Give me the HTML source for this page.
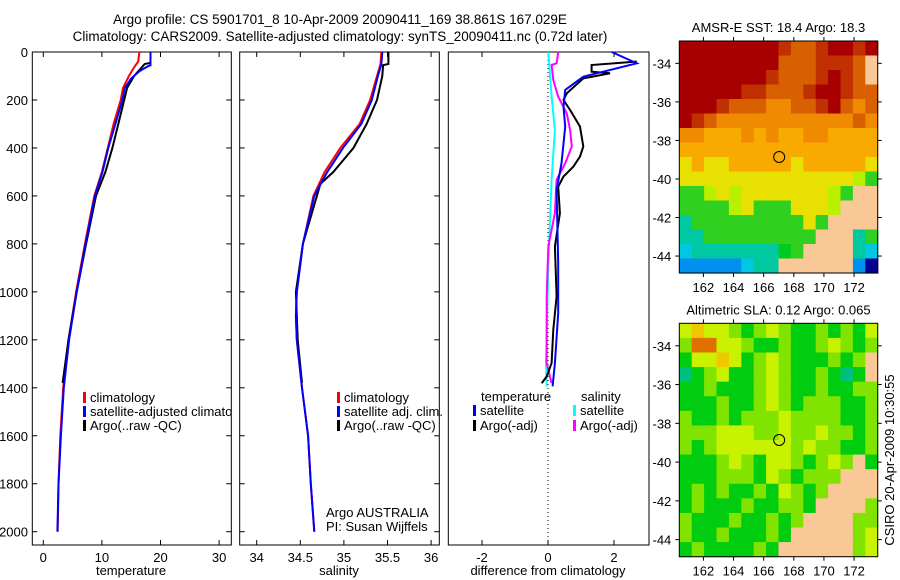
<!DOCTYPE html>
<html><head><meta charset="utf-8"><style>
body{margin:0;background:#fff;}
svg{display:block;font-family:"Liberation Sans",sans-serif;}
</style></head><body>
<svg id="s" width="900" height="580" viewBox="0 0 900 580" xmlns="http://www.w3.org/2000/svg">
<defs><clipPath id="cp1"><rect x="32" y="52" width="199.5" height="494"/></clipPath></defs>
<text x="340" y="24" font-size="13.5" text-anchor="middle">Argo profile: CS 5901701_8 10-Apr-2009 20090411_169 38.861S 167.029E</text>
<text x="340" y="41" font-size="13.5" text-anchor="middle">Climatology: CARS2009. Satellite-adjusted climatology: synTS_20090411.nc (0.72d later)</text>
<g id="g"></g>
</svg>
<script>
// ---- profile data (depth in m) ----
const tClimD=[0,40,60,100,150,200,300,400,500,600,800,1000,1200,1400,1600,1800,2000];
const tClimV=[16.4,16.2,15.6,14.6,13.6,13.2,12.0,11.0,10.0,8.7,7.1,5.6,4.3,3.4,2.9,2.6,2.45];
const tSatD=[0,55,60,80,110,150,200,300,400,500,600,800,1000,1200,1400,1600,1800,2000];
const tSatV=[18.3,18.3,17.8,16.4,15.0,13.9,13.5,12.3,11.1,10.1,8.8,7.2,5.7,4.4,3.5,3.0,2.6,2.4];
const tArgD=[0,45,50,100,150,200,300,400,500,600,800,1000,1200,1380];
const tArgV=[18.3,18.3,17.3,15.5,14.3,13.8,12.8,11.8,10.6,9.0,7.3,5.7,4.3,3.3];
const sClimD=[0,50,100,200,300,400,500,600,800,1000,1100,1200,1400,1600,1800,2000];
const sClimV=[35.43,35.42,35.38,35.30,35.18,34.96,34.78,34.65,34.53,34.46,34.45,34.46,34.52,34.59,34.62,34.66];
const sSatD=[0,50,100,200,300,400,500,600,800,1000,1100,1200,1400,1600,1800,2000];
const sSatV=[35.44,35.43,35.39,35.32,35.20,34.99,34.81,34.66,34.53,34.46,34.45,34.46,34.52,34.59,34.62,34.66];
const sArgD=[0,50,55,100,200,300,400,500,550,600,800,1000,1200,1380];
const sArgV=[35.51,35.51,35.45,35.44,35.38,35.26,35.11,34.88,34.73,34.69,34.53,34.45,34.47,34.52];
const dTSatD=[0,47,103,158,228,311,464,575,881,1089,1297,1394];
const dTSatV=[1.93,2.69,1.07,0.52,0.47,0.52,0.41,0.26,0.31,0.31,0.21,0.14];
const dTArgD=[40,54,82,89,110,172,200,242,311,394,436,478,519,561,672,811,1019,1158,1297,1353,1381];
const dTArgV=[2.69,1.32,1.32,1.88,1.07,0.57,0.47,0.67,0.97,1.07,0.97,0.77,0.47,0.31,0.36,0.21,0.26,0.16,0.11,-0.04,-0.19];
const dSSatD=[0,186,325,533,881,1297,1394];
const dSSatV=[0.01,0.11,0.21,0.11,0.01,-0.06,-0.04];
const dSArgD=[0,47,54,117,186,256,325,394,464,533,672,811,1019,1297,1381];
const dSArgV=[0.31,0.26,0.11,0.16,0.31,0.57,0.67,0.72,0.52,0.26,0.21,0.01,-0.04,-0.04,0.11];
const depthTicks=[0,200,400,600,800,1000,1200,1400,1600,1800,2000];
const tTicks=[0,10,20,30];
const sTicks=[34,34.5,35,35.5,36];
const sTickLabels=["34","34.5","35","35.5","36"];
const dTicks=[-2,0,2];
const lonTicks=[162,164,166,168,170,172];
const latTicks=[-34,-36,-38,-40,-42,-44];
// ---- map grids (16 cols x 16 rows) ----
const sstGrid=[
"RRRRRRRRrOOrRRrR","RRRRRRRROOOrrrOL","RRRRRRRrOOOrRrOL","RRRRRrrOOOrRRrOO",
"RRRrOOOooOOrROoO","RrOoooooooooooOo","ooaaaoaoaaooaaaa","aaaaaaaaaaaaaaaa",
"yayyaaaaayaaaaay","yyyyyyyyyyyyyylG","GGlylyyyyyyylGLL","GGGGlyGGGyyylLLL",
"tGGGGGGGGGyGLLLL","ttGGGGGGGGGLLLtG","ctttttttgGLLLLtc","bbbbbcttLLLLLLbN"];
const slaGrid=[
"YaYYlglYlgglglgY","lOOYYlgglgglYlgl","gYYaYglYlggglglL","tglYgglYlgglgtgL",
"gglggglYlgglggll","ggglgglYlglllggl","lgglglllYllllggl","lllYYYllYllYllgl",
"lglYYYYYYlYllggl","ggglYlgYYlglYlLg","ggglllgYlglllLLL","glglgglgYlglLLLL",
"glggglggllgLLLLl","lggglgglglLLLLll","lgglggglgLLLLLlY","glgggglgLLLLLLlY"];
const sstPal={R:"#a80000",r:"#c03000",O:"#d86000",o:"#f08a00",a:"#f8aa00",y:"#e8e000",l:"#b8f000",G:"#30d020",g:"#00cc20",t:"#00c8a0",c:"#00c8e0",b:"#0090f0",B:"#0040d0",N:"#000090",L:"#f9c896"};
const slaPal={g:"#00cc10",l:"#80e400",Y:"#c8f200",a:"#f0c800",O:"#e07000",t:"#00c080",L:"#f9c896"};

const NS="http://www.w3.org/2000/svg";
const G=document.getElementById('g');
function mk(tag,at,parent){const e=document.createElementNS(NS,tag);for(const k in at)e.setAttribute(k,at[k]);(parent||G).appendChild(e);return e;}
const y0=52, ppm=0.23985;
const yD=d=>y0+d*ppm;
const xT=v=>43.3+v*5.86;
const xS=v=>256.7+(v-34)*87.2;
const xD=v=>548+v*33;
const panels=[[32.3,231.3],[239.7,439.3],[448.3,649]];
const bottom=545;

panels.forEach((p,i)=>{
  const r=mk('rect',{x:p[0],y:y0,width:p[1]-p[0],height:bottom-y0,fill:'none',stroke:'#000','stroke-width':1});
  
  
  if(i<2){depthTicks.forEach(d=>{
    mk('line',{x1:p[0],x2:p[0]+5,y1:yD(d),y2:yD(d),stroke:'#000'});
    mk('line',{x1:p[1],x2:p[1]-5,y1:yD(d),y2:yD(d),stroke:'#000'});
  });}
});
depthTicks.forEach(d=>{
  const t=mk('text',{x:28,y:yD(d)+5,'font-size':13,'text-anchor':'end'});
  t.textContent=d;
  
  
});
function xticks(ticks,labels,fx){
  ticks.forEach((v,i)=>{
    const x=fx(v);
    mk('line',{x1:x,x2:x,y1:bottom,y2:bottom-5,stroke:'#000'});
    mk('line',{x1:x,x2:x,y1:y0,y2:y0+5,stroke:'#000'});
    const t=mk('text',{x:x,y:bottom+17,'font-size':13,'text-anchor':'middle'});
    t.textContent=labels[i];
    
    
  });
}
xticks(tTicks,tTicks.map(String),xT);
xticks(sTicks,sTickLabels,xS);
xticks(dTicks,dTicks.map(String),xD);
const z=mk('line',{x1:xD(0),x2:xD(0),y1:y0,y2:bottom,stroke:'#000','stroke-dasharray':'1,3'});



function line(D,V,fx,col,name,w){
  const pts=D.map((d,i)=>fx(V[i]).toFixed(1)+','+yD(d).toFixed(1)).join(' ');
  const pl=mk('polyline',{points:pts,fill:'none',stroke:col,'stroke-width':w||2});
  
  
}
line(tClimD,tClimV,xT,'#f00','temp-climatology-line');
line(tArgD,tArgV,xT,'#000','temp-argo-line');
line(tSatD,tSatV,xT,'#00f','temp-satellite-line');
line(sClimD,sClimV,xS,'#f00','sal-climatology-line');
line(sArgD,sArgV,xS,'#000','sal-argo-line');
line(sSatD,sSatV,xS,'#00f','sal-satellite-line');
line(dSSatD,dSSatV,xD,'#00ffff','diff-sal-satellite-line');
line(dSArgD,dSArgV,xD,'#ff00ff','diff-sal-argo-line');
line(dTArgD,dTArgV,xD,'#000','diff-temp-argo-line');
line(dTSatD,dTSatV,xD,'#00f','diff-temp-satellite-line');

function txt(x,y,s,name,opt,parent){
  const t=mk('text',Object.assign({x:x,y:y,'font-size':13},opt||{}),parent);
  t.textContent=s;
  
  
  return t;
}
const clipG=mk('g',{'clip-path':'url(#cp1)'});
function leg(x,y,col,s,name,parent){
  mk('rect',{x:x,y:y-10,width:3,height:11,fill:col},parent);
  txt(x+7,y,s,name,null,parent);
}
leg(83,402,'#f00','climatology','legend-climatology',clipG);
leg(83,416,'#00f','satellite-adjusted climatology','legend-satellite-adjusted',clipG);
leg(83,430,'#000','Argo(..raw -QC)','legend-argo',clipG);
leg(337,402,'#f00','climatology','legend-sal-climatology');
leg(337,416,'#00f','satellite adj. clim.','legend-sal-satellite');
leg(337,430,'#000','Argo(..raw -QC)','legend-sal-argo');
txt(481,401,'temperature','legend-temperature-header');
txt(581,401,'salinity','legend-salinity-header');
leg(473,415,'#00f','satellite','legend-temp-satellite');
leg(473,430,'#000','Argo(-adj)','legend-temp-argo');
leg(573,415,'#00ffff','satellite','legend-sal-satellite-diff');
leg(573,430,'#ff00ff','Argo(-adj)','legend-sal-argo-diff');
txt(326,517,'Argo AUSTRALIA','argo-australia-note');
txt(326,531,'PI: Susan Wijffels','pi-note');
txt(131,575,'temperature','x-axis-title-temperature',{'text-anchor':'middle'});
txt(339,575,'salinity','x-axis-title-salinity',{'text-anchor':'middle'});
txt(548,575,'difference from climatology','x-axis-title-difference',{'text-anchor':'middle'});

// ---- maps ----
function drawMap(grid,pal,top,bot,title,name){
  const L=679.3,R=877.7;
  const lon0=160.4,lon1=173.57, lat0=-32.84,lat1=-44.88;
  const fx=lo=>L+(lo-lon0)/(lon1-lon0)*(R-L);
  const fy=la=>top+(la-lat0)/(lat1-lat0)*(bot-top);
  const rows=grid.length, cols=grid[0].length;
  const cw=(R-L)/cols, ch=(bot-top)/rows;
  for(let r=0;r<rows;r++)for(let c=0;c<cols;c++){
    const cell=mk('rect',{x:(L+c*cw).toFixed(2),y:(top+r*ch).toFixed(2),width:(cw+0.6).toFixed(2),height:(ch+0.6).toFixed(2),fill:pal[grid[r][c]]});
    
    
  }
  const fr=mk('rect',{x:L,y:top,width:R-L,height:bot-top,fill:'none',stroke:'#000'});
  
  
  lonTicks.forEach(lo=>{
    mk('line',{x1:fx(lo),x2:fx(lo),y1:bot,y2:bot+4,stroke:'#000'});
    mk('line',{x1:fx(lo),x2:fx(lo),y1:top,y2:top-4,stroke:'#000'});
    txt(fx(lo),bot+19,String(lo),name+'-lon-label',{'text-anchor':'middle'});
  });
  latTicks.forEach(la=>{
    mk('line',{x1:L,x2:L-4,y1:fy(la),y2:fy(la),stroke:'#000'});
    mk('line',{x1:R,x2:R+4,y1:fy(la),y2:fy(la),stroke:'#000'});
    txt(L-8,fy(la)+5,String(la),name+'-lat-label',{'text-anchor':'end'});
  });
  const c=mk('circle',{cx:fx(167.03),cy:fy(-38.86),r:5.5,fill:'none',stroke:'#000'});
  
  
  txt((L+R)/2,top-9,title,name+'-title',{'text-anchor':'middle'});
}
drawMap(sstGrid,sstPal,41,273,'AMSR-E SST: 18.4 Argo: 18.3','sst-map');
drawMap(slaGrid,slaPal,323.3,556.7,'Altimetric SLA: 0.12 Argo: 0.065','sla-map');
txt(0,0,'CSIRO 20-Apr-2009 10:30:55','timestamp',{transform:'translate(894,460) rotate(-90)','text-anchor':'middle'});
</script>
</body></html>
